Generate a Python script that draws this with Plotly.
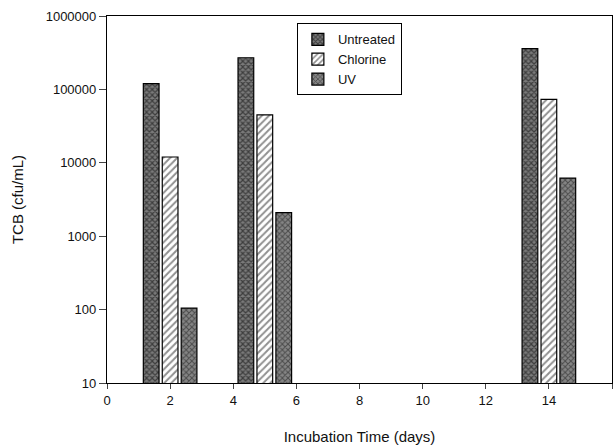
import plotly.graph_objects as go

days = [2, 5, 14]
series_names = ["Untreated", "Chlorine", "UV"]
untreated = [120000, 270000, 360000]
chlorine = [12000, 45000, 73000]
uv = [105, 2100, 6200]
y_tick_vals = [10, 100, 1000, 10000, 100000, 1000000]
y_tick_text = ["10", "100", "1000", "10000", "100000", "1000000"]
x_tick_vals = [0, 2, 4, 6, 8, 10, 12, 14, 16]

font_family = "Liberation Sans, Arial, sans-serif"

patterns = [
    dict(shape="x", fgcolor="#000000", bgcolor="#7a7a7a", size=4, solidity=0.5),
    dict(shape="/", fgcolor="#222222", bgcolor="#ffffff", size=5, solidity=0.4),
    dict(shape="x", fgcolor="#111111", bgcolor="#858585", size=4, solidity=0.45),
]

fig = go.Figure()
for name, vals, pat in zip(series_names, [untreated, chlorine, uv], patterns):
    fig.add_trace(go.Bar(
        x=days, y=vals, name=name,
        marker=dict(color=pat["bgcolor"], pattern=pat,
                    line=dict(color="#000000", width=1.2)),
    ))

fig.update_layout(
    width=614, height=447,
    margin=dict(l=107, r=2, t=16, b=64, autoexpand=False),
    paper_bgcolor="white", plot_bgcolor="white",
    barmode="group", bargap=0.4, bargroupgap=0.17,
    font=dict(family=font_family, size=13, color="#111111"),
    showlegend=True,
    legend=dict(x=0.376, y=0.98, xanchor="left", yanchor="top",
                bordercolor="#000000", borderwidth=1, bgcolor="white",
                font=dict(size=13, color="#111111"), tracegroupgap=0),
    xaxis=dict(range=[0, 16], tickvals=x_tick_vals, ticks="outside", ticklen=5,
               automargin=False, tickfont=dict(size=13, color="#111111"),
               showline=True, linecolor="#000000", linewidth=1.2, mirror=True,
               showgrid=False, zeroline=False,
               title=dict(text="Incubation Time (days)", font=dict(size=15, color="#111111"), standoff=24)),
    yaxis=dict(type="log", range=[1, 6], tickvals=y_tick_vals, ticktext=y_tick_text,
               ticks="outside", ticklen=7,
               automargin=False, tickfont=dict(size=13, color="#111111"),
               showline=True, linecolor="#000000", linewidth=1.2, mirror=True,
               showgrid=False, zeroline=False,
               title=dict(text="TCB (cfu/mL)", font=dict(size=15, color="#111111"), standoff=18)),
)

post = ("document.body.style.margin='0';document.body.style.padding='0';"
        "document.documentElement.style.overflow='hidden';"
        "var gd=document.getElementById('{plot_id}');if(gd){Plotly.Plots.resize(gd);}")

fig.write_html("out.html", post_script=post,
               config={"responsive": False, "displayModeBar": False})
